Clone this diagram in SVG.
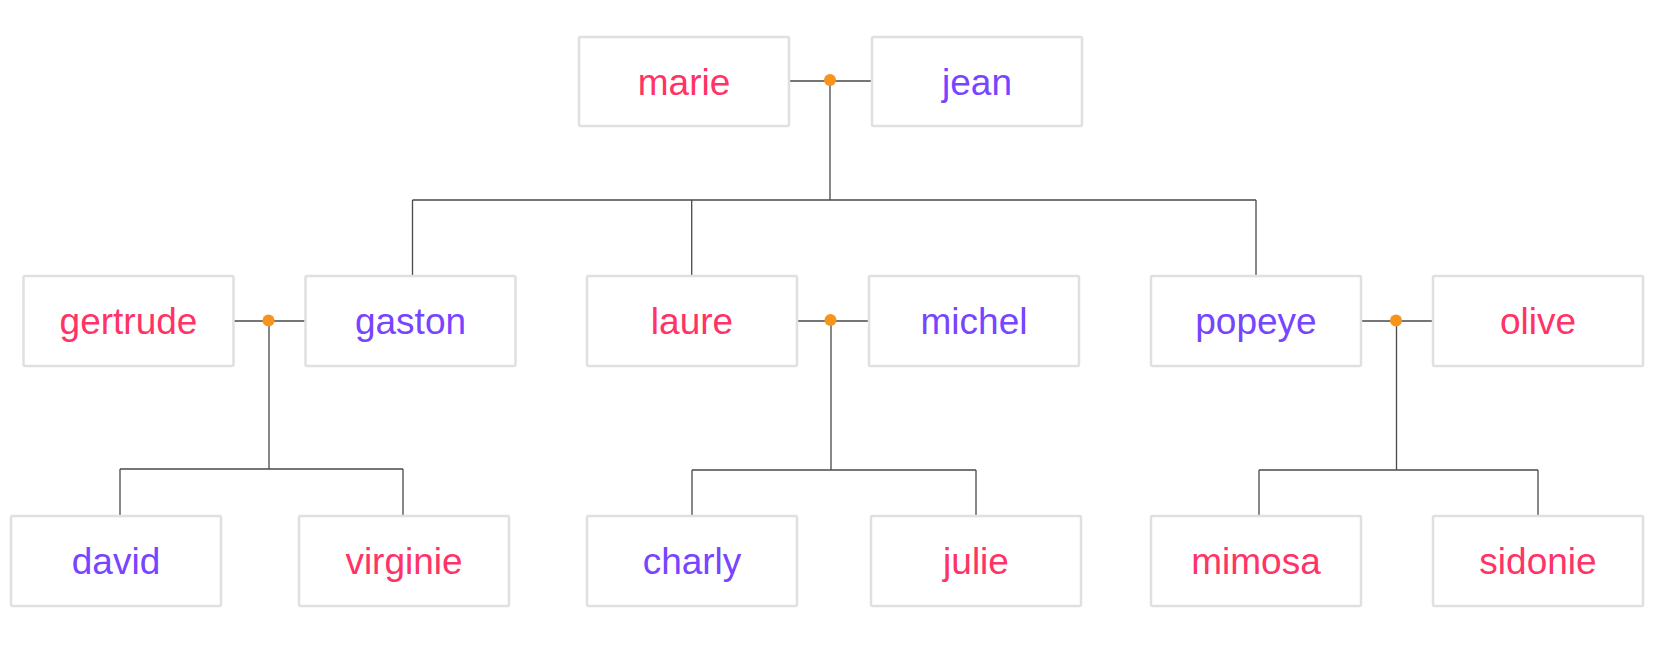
<svg xmlns="http://www.w3.org/2000/svg" width="1658" height="648" viewBox="0 0 1658 648">
<style>
.box{fill:#fff;stroke:#e0e0e0;stroke-width:2.5}
.t{font-family:"Liberation Sans",Arial,sans-serif;font-size:37px;text-anchor:middle}
.f{fill:#ff3366}
.m{fill:#7744ff}
.c{fill:none;stroke:#4a4a4a;stroke-width:1.3}
.d{fill:#f7941d}
</style>
<rect width="1658" height="648" fill="#fff"/>
<g id="connectors">
<path class="c" d="M789 81H872M830 81V200M412.5 200H1256M412.5 200V276M691.7 200V276M1256 200V276"/>
<path class="c" d="M233 321H305.5M269 321V469M120 469H403M120 469V516M403 469V516"/>
<path class="c" d="M797 321H869M831 321V470M692 470H976M692 470V516M976 470V516"/>
<path class="c" d="M1361 321H1433M1396.5 321V470M1259 470H1538M1259 470V516M1538 470V516"/>
<circle class="d" cx="830" cy="80" r="6"/>
<circle class="d" cx="268.5" cy="320.5" r="6"/>
<circle class="d" cx="830.5" cy="320" r="6"/>
<circle class="d" cx="1396" cy="320.5" r="6"/>
</g>
<g id="marie"><rect class="box" x="579" y="37" width="210" height="89" rx="1.5"/><text class="t f" x="684" y="94.5">marie</text></g>
<g id="jean"><rect class="box" x="872" y="37" width="210" height="89" rx="1.5"/><text class="t m" x="977" y="94.5">jean</text></g>
<g id="gertrude"><rect class="box" x="23.5" y="276" width="210" height="90" rx="1.5"/><text class="t f" x="128.5" y="334">gertrude</text></g>
<g id="gaston"><rect class="box" x="305.5" y="276" width="210" height="90" rx="1.5"/><text class="t m" x="410.5" y="334">gaston</text></g>
<g id="laure"><rect class="box" x="587" y="276" width="210" height="90" rx="1.5"/><text class="t f" x="692" y="334">laure</text></g>
<g id="michel"><rect class="box" x="869" y="276" width="210" height="90" rx="1.5"/><text class="t m" x="974" y="334">michel</text></g>
<g id="popeye"><rect class="box" x="1151" y="276" width="210" height="90" rx="1.5"/><text class="t m" x="1256" y="334">popeye</text></g>
<g id="olive"><rect class="box" x="1433" y="276" width="210" height="90" rx="1.5"/><text class="t f" x="1538" y="334">olive</text></g>
<g id="david"><rect class="box" x="11" y="516" width="210" height="90" rx="1.5"/><text class="t m" x="116" y="573.5">david</text></g>
<g id="virginie"><rect class="box" x="299" y="516" width="210" height="90" rx="1.5"/><text class="t f" x="404" y="573.5">virginie</text></g>
<g id="charly"><rect class="box" x="587" y="516" width="210" height="90" rx="1.5"/><text class="t m" x="692" y="573.5">charly</text></g>
<g id="julie"><rect class="box" x="871" y="516" width="210" height="90" rx="1.5"/><text class="t f" x="976" y="573.5">julie</text></g>
<g id="mimosa"><rect class="box" x="1151" y="516" width="210" height="90" rx="1.5"/><text class="t f" x="1256" y="573.5">mimosa</text></g>
<g id="sidonie"><rect class="box" x="1433" y="516" width="210" height="90" rx="1.5"/><text class="t f" x="1538" y="573.5">sidonie</text></g>
</svg>
